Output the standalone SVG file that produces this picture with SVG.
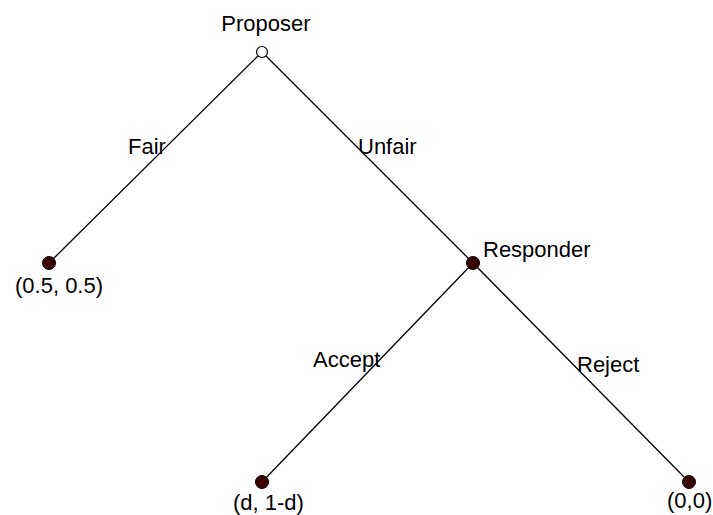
<svg xmlns="http://www.w3.org/2000/svg" width="713" height="515" viewBox="0 0 713 515">
  <style>
    text { font-family: "Liberation Sans", Arial, Helvetica, sans-serif; font-size: 22px; fill: #000; }
    .edge { stroke: #000; stroke-width: 1.3; fill: none; }
    .leaf { fill: #3a0000; stroke: #000; stroke-width: 1; }
    .root { fill: #fff; stroke: #000; stroke-width: 1.2; }
  </style>
  <rect width="713" height="515" fill="#fff"/>
  <!-- game tree branches -->
  <g id="connectors">
    <line class="edge" x1="262" y1="52" x2="49" y2="263"/>
    <line class="edge" x1="262" y1="52" x2="473" y2="263"/>
    <line class="edge" x1="473" y1="263" x2="262" y2="482"/>
    <line class="edge" x1="473" y1="263" x2="689" y2="482"/>
    <text x="128" y="154">Fair</text>
    <text x="358" y="154">Unfair</text>
    <text x="313" y="367">Accept</text>
    <text x="577" y="372">Reject</text>
  </g>
  <g id="proposer">
    <circle class="root" cx="262" cy="52" r="5.5"/>
    <text x="266" y="31" text-anchor="middle">Proposer</text>
  </g>
  <g id="fair-outcome">
    <circle class="leaf" cx="49" cy="263" r="6.5"/>
    <text x="15" y="293">(0.5, 0.5)</text>
  </g>
  <g id="responder">
    <circle class="leaf" cx="473" cy="263" r="6.5"/>
    <text x="483" y="257">Responder</text>
  </g>
  <g id="accept-outcome">
    <circle class="leaf" cx="262" cy="482" r="6.5"/>
    <text x="233" y="510">(d, 1-d)</text>
  </g>
  <g id="reject-outcome">
    <circle class="leaf" cx="689" cy="482" r="6.5"/>
    <text x="667" y="508">(0,0)</text>
  </g>
</svg>
